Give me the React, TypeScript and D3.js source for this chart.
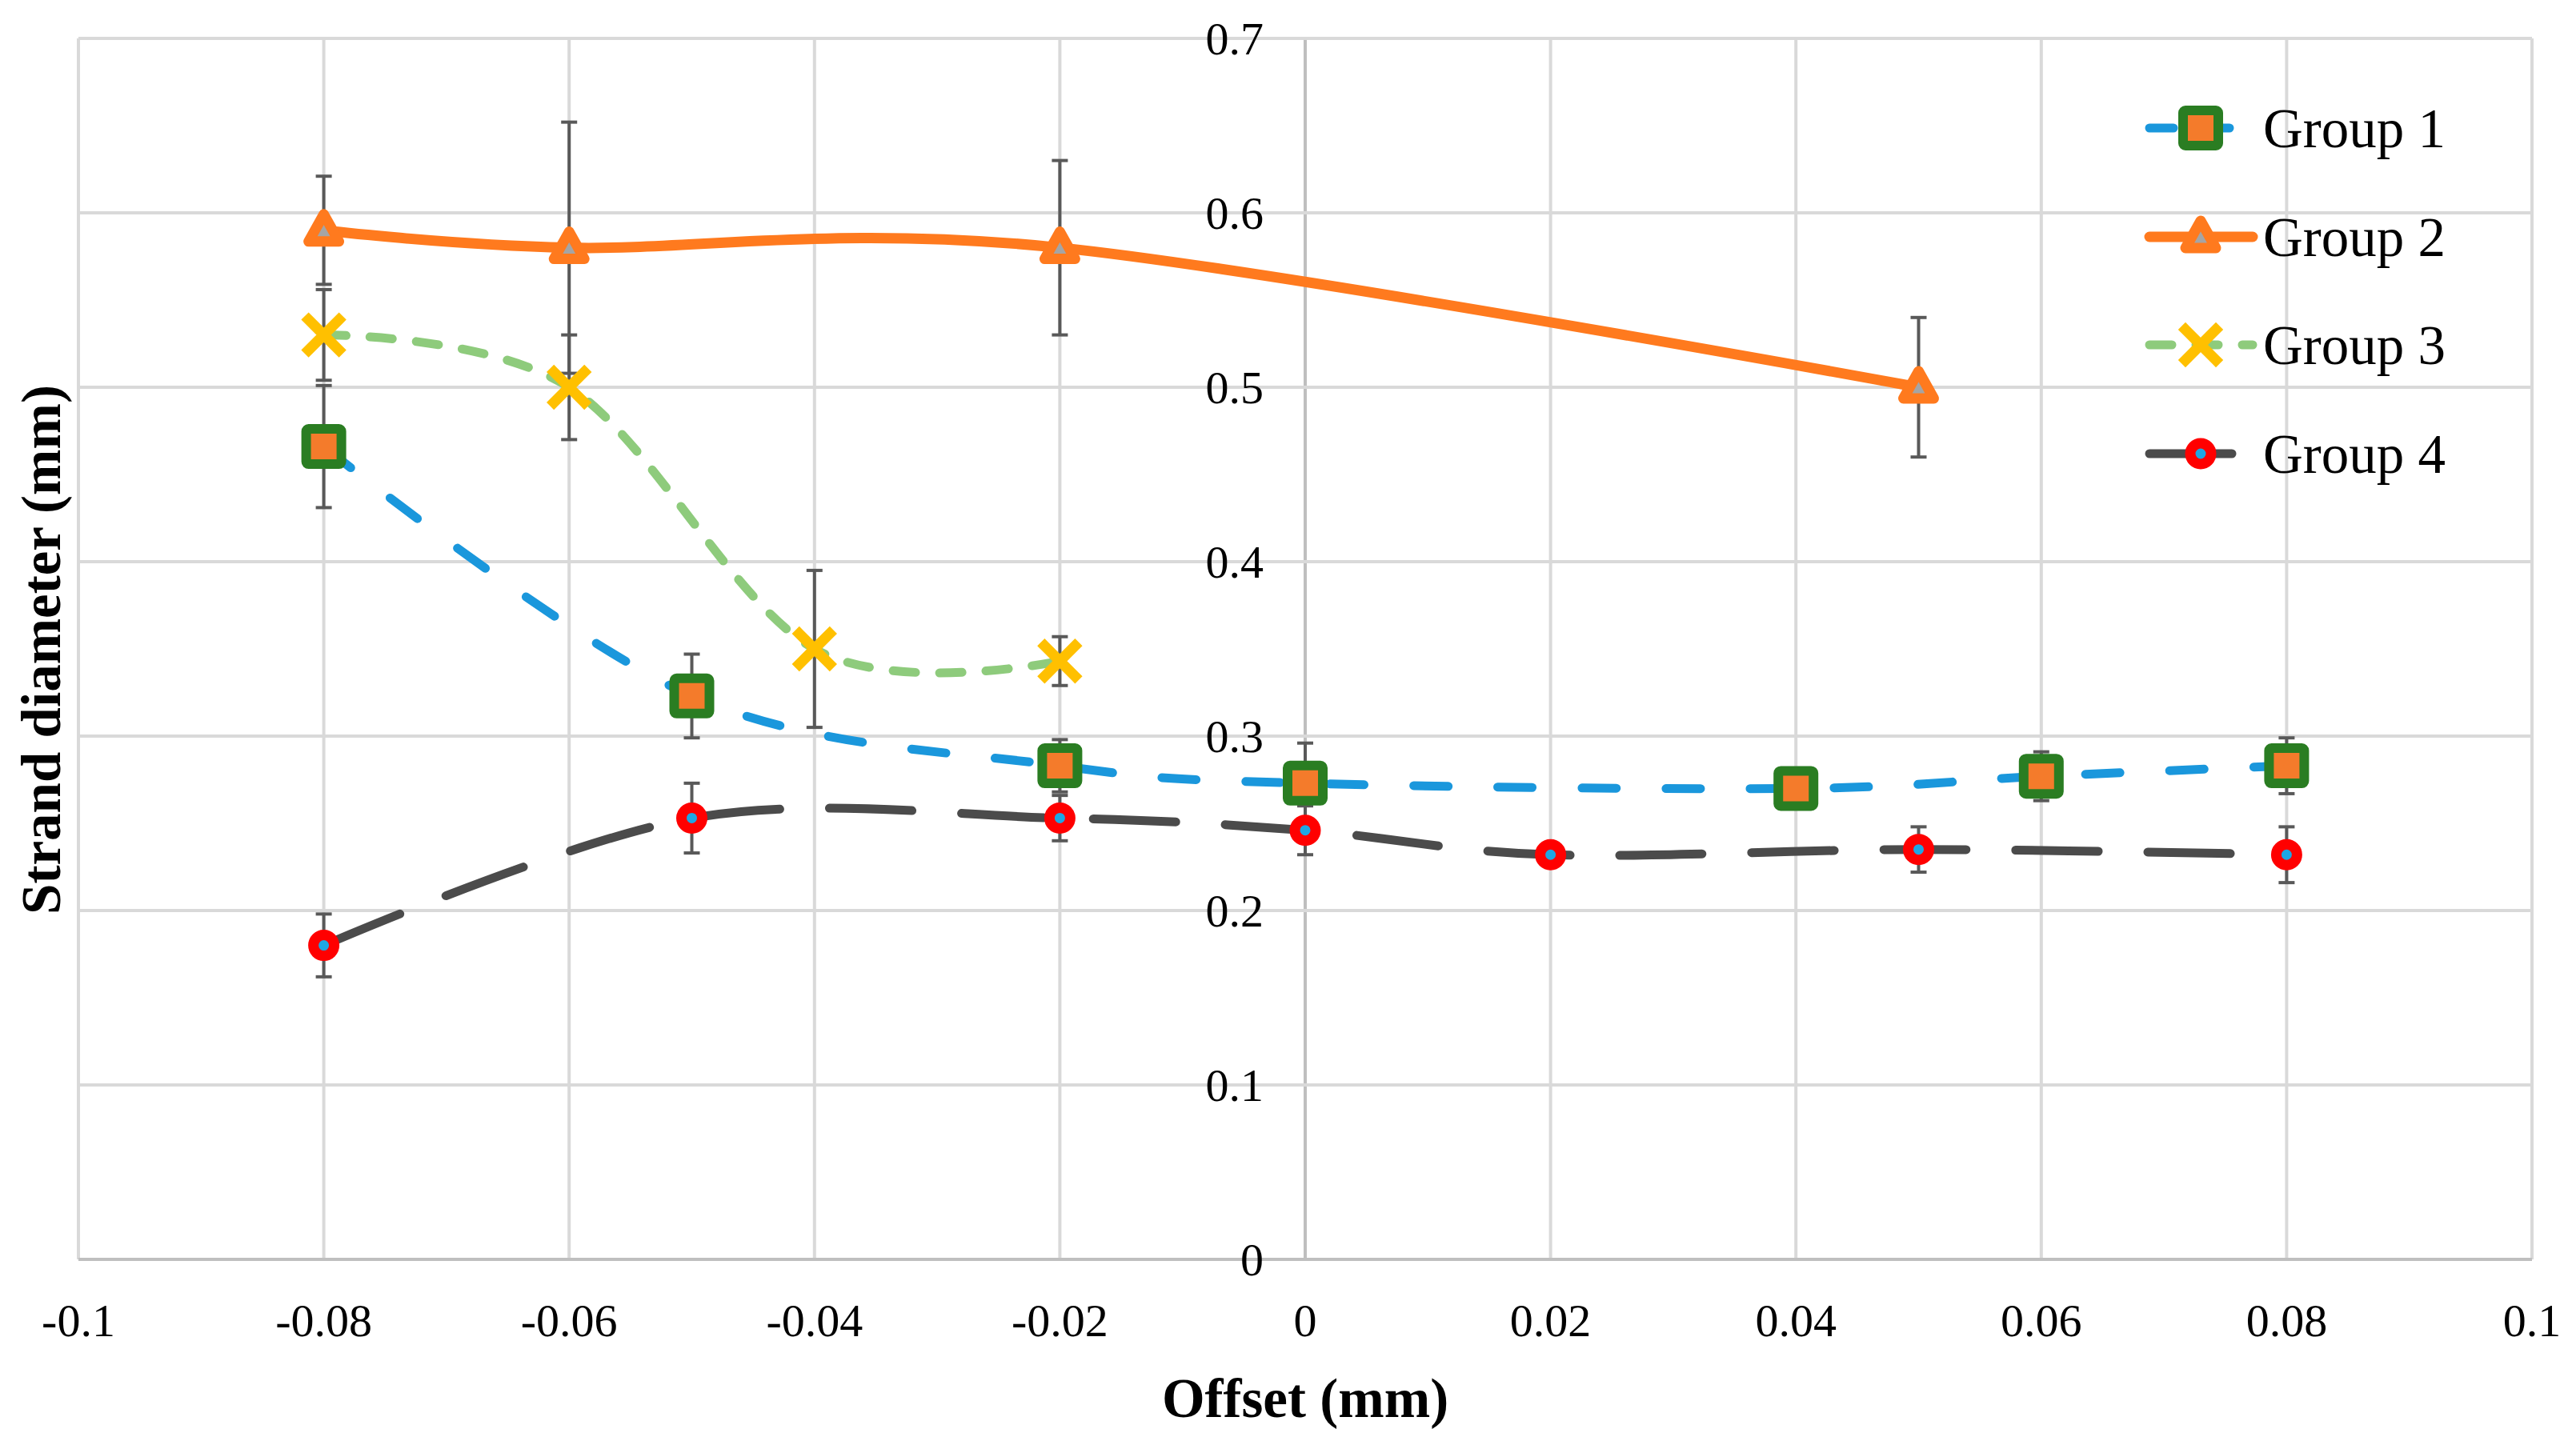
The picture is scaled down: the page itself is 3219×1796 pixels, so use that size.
import React, { useEffect, useRef } from 'react';
import * as d3 from 'd3';

// offsets (mm) and strand diameters (mm)
const group1X = [-0.08, -0.05, -0.02, 0, 0.04, 0.06, 0.08];
const group1Y = [0.466, 0.323, 0.283, 0.273, 0.270, 0.277, 0.283];
const group1Err = [0.035, 0.024, 0.015, 0.023, 0.005, 0.014, 0.016];

const group2X = [-0.08, -0.06, -0.02, 0.05];
const group2Y = [0.590, 0.580, 0.580, 0.500];
const group2Err = [0.031, 0.072, 0.05, 0.04];

const group3X = [-0.08, -0.06, -0.04, -0.02];
const group3Y = [0.530, 0.500, 0.350, 0.343];
const group3Err = [0.026, 0.030, 0.045, 0.014];

const group4X = [-0.08, -0.05, -0.02, 0, 0.02, 0.05, 0.08];
const group4Y = [0.180, 0.253, 0.253, 0.246, 0.232, 0.235, 0.232];
const group4Err = [0.018, 0.020, 0.013, 0.014, 0.004, 0.013, 0.016];

const xTicks = [-0.1, -0.08, -0.06, -0.04, -0.02, 0, 0.02, 0.04, 0.06, 0.08, 0.1];
const yTicks = [0, 0.1, 0.2, 0.3, 0.4, 0.5, 0.6, 0.7];
const seriesNames = ['Group 1', 'Group 2', 'Group 3', 'Group 4'];

const W = 3219;
const H = 1796;
const FONT = '"Liberation Serif", "Times New Roman", serif';

const App: React.FC = () => {
    const ref = useRef<HTMLDivElement>(null);

    useEffect(() => {
        if (!ref.current) return;
        document.body.style.margin = '0';

        const svg = d3.select(ref.current)
            .append('svg')
            .attr('width', W)
            .attr('height', H)
            .style('background', '#fff');

        const x = d3.scaleLinear().domain([-0.1, 0.1]).range([98, 3164]);
        const y = d3.scaleLinear().domain([0, 0.7]).range([1574, 48]);

        // grid
        svg.append('g')
            .selectAll('line.v')
            .data(xTicks)
            .enter()
            .append('line')
            .attr('x1', (d) => x(d)).attr('x2', (d) => x(d))
            .attr('y1', y(0.7)).attr('y2', y(0))
            .attr('stroke', (d) => (Math.abs(d) < 1e-9 ? '#bfbfbf' : '#d9d9d9'))
            .attr('stroke-width', 4);
        svg.append('g')
            .selectAll('line.h')
            .data(yTicks)
            .enter()
            .append('line')
            .attr('x1', x(-0.1)).attr('x2', x(0.1))
            .attr('y1', (d) => y(d)).attr('y2', (d) => y(d))
            .attr('stroke', (d) => (d === 0 ? '#bfbfbf' : '#d9d9d9'))
            .attr('stroke-width', 4);

        // tick labels
        svg.append('g')
            .selectAll('text')
            .data(yTicks)
            .enter()
            .append('text')
            .attr('x', x(0) - 52)
            .attr('y', (d) => y(d))
            .attr('dy', '0.35em')
            .attr('text-anchor', 'end')
            .style('font-family', FONT)
            .style('font-size', '58px')
            .text((d) => String(d));
        svg.append('g')
            .selectAll('text')
            .data(xTicks)
            .enter()
            .append('text')
            .attr('x', (d) => x(d))
            .attr('y', 1650)
            .attr('dy', '0.35em')
            .attr('text-anchor', 'middle')
            .style('font-family', FONT)
            .style('font-size', '58px')
            .text((d) => String(+d.toFixed(2)));

        // axis titles
        svg.append('text')
            .attr('x', x(0))
            .attr('y', 1771)
            .attr('text-anchor', 'middle')
            .style('font-family', FONT)
            .style('font-size', '69px')
            .style('font-weight', 'bold')
            .text('Offset (mm)');
        svg.append('text')
            .attr('transform', 'translate(75, 812) rotate(-90)')
            .attr('text-anchor', 'middle')
            .style('font-family', FONT)
            .style('font-size', '69px')
            .style('font-weight', 'bold')
            .text('Strand diameter (mm)');

        const series = [
            { xs: group1X, ys: group1Y, err: group1Err, color: '#1a97dc', dash: '43 62', marker: 'square' },
            { xs: group2X, ys: group2Y, err: group2Err, color: '#ff7a1e', dash: null, marker: 'triangle' },
            { xs: group3X, ys: group3Y, err: group3Err, color: '#8ecb7c', dash: '28 30', marker: 'cross' },
            { xs: group4X, ys: group4Y, err: group4Err, color: '#4b4b4b', dash: '103 62', marker: 'circle' },
        ];

        const line = d3.line<[number, number]>()
            .x((d) => x(d[0]))
            .y((d) => y(d[1]))
            .curve(d3.curveCardinal.tension(0));

        series.forEach((s) => {
            const pts: [number, number][] = s.xs.map((v, i) => [v, s.ys[i]]);
            const p = svg.append('path')
                .attr('d', line(pts))
                .attr('fill', 'none')
                .attr('stroke', s.color)
                .attr('stroke-width', s.dash ? 11 : 13)
                .attr('stroke-linecap', 'round')
                .attr('stroke-linejoin', 'round');
            if (s.dash) p.attr('stroke-dasharray', s.dash);
        });

        // error bars
        const eb = svg.append('g').attr('stroke', '#595959').attr('stroke-width', 4);
        series.forEach((s) => {
            s.xs.forEach((v, i) => {
                const cx = x(v);
                const lo = y(s.ys[i] - s.err[i]);
                const hi = y(s.ys[i] + s.err[i]);
                eb.append('line').attr('x1', cx).attr('x2', cx).attr('y1', lo).attr('y2', hi);
                eb.append('line').attr('x1', cx - 10).attr('x2', cx + 10).attr('y1', lo).attr('y2', lo);
                eb.append('line').attr('x1', cx - 10).attr('x2', cx + 10).attr('y1', hi).attr('y2', hi);
            });
        });

        const drawMarker = (g: d3.Selection<SVGGElement, unknown, null, undefined>, kind: string) => {
            if (kind === 'square') {
                g.append('rect')
                    .attr('x', -22).attr('y', -22).attr('width', 44).attr('height', 44)
                    .attr('rx', 3)
                    .attr('fill', '#f47b2b')
                    .attr('stroke', '#2a7d22')
                    .attr('stroke-width', 12);
            } else if (kind === 'triangle') {
                g.append('path')
                    .attr('d', 'M0,-20 L19,14 L-19,14 Z')
                    .attr('fill', '#a5a5a5')
                    .attr('stroke', '#ff7a1e')
                    .attr('stroke-width', 13)
                    .attr('stroke-linejoin', 'round');
            } else if (kind === 'cross') {
                g.append('path')
                    .attr('d', 'M-19,-19 L19,19 M19,-19 L-19,19')
                    .attr('fill', 'none')
                    .attr('stroke', '#ffc000')
                    .attr('stroke-width', 13)
                    .attr('stroke-linecap', 'square');
            } else {
                g.append('circle')
                    .attr('r', 13)
                    .attr('fill', '#1ea7e4')
                    .attr('stroke', '#ff0000')
                    .attr('stroke-width', 13);
            }
        };

        series.forEach((s) => {
            s.xs.forEach((v, i) => {
                const g = svg.append('g').attr('transform', `translate(${x(v)}, ${y(s.ys[i])})`);
                drawMarker(g, s.marker);
            });
        });

        // legend
        const legendY = [160, 296, 431, 567];
        series.forEach((s, i) => {
            const lg = svg.append('g').attr('transform', `translate(0, ${legendY[i]})`);
            const l = lg.append('line')
                .attr('x1', 2686).attr('x2', i === 3 ? 2790 : 2815)
                .attr('y1', 0).attr('y2', 0)
                .attr('stroke', s.color)
                .attr('stroke-width', s.dash ? 11 : 13)
                .attr('stroke-linecap', 'round');
            if (s.dash) l.attr('stroke-dasharray', i === 0 ? '30 40' : i === 2 ? '28 30' : s.dash);
            const m = lg.append('g').attr('transform', 'translate(2750, 0)');
            drawMarker(m, s.marker);
            lg.append('text')
                .attr('x', 2828)
                .attr('y', 0)
                .attr('dy', '0.35em')
                .style('font-family', FONT)
                .style('font-size', '69px')
                .text(seriesNames[i]);
        });

        return () => {
            svg.remove();
        };
    }, []);

    return <div ref={ref}></div>;
};

export default App;
